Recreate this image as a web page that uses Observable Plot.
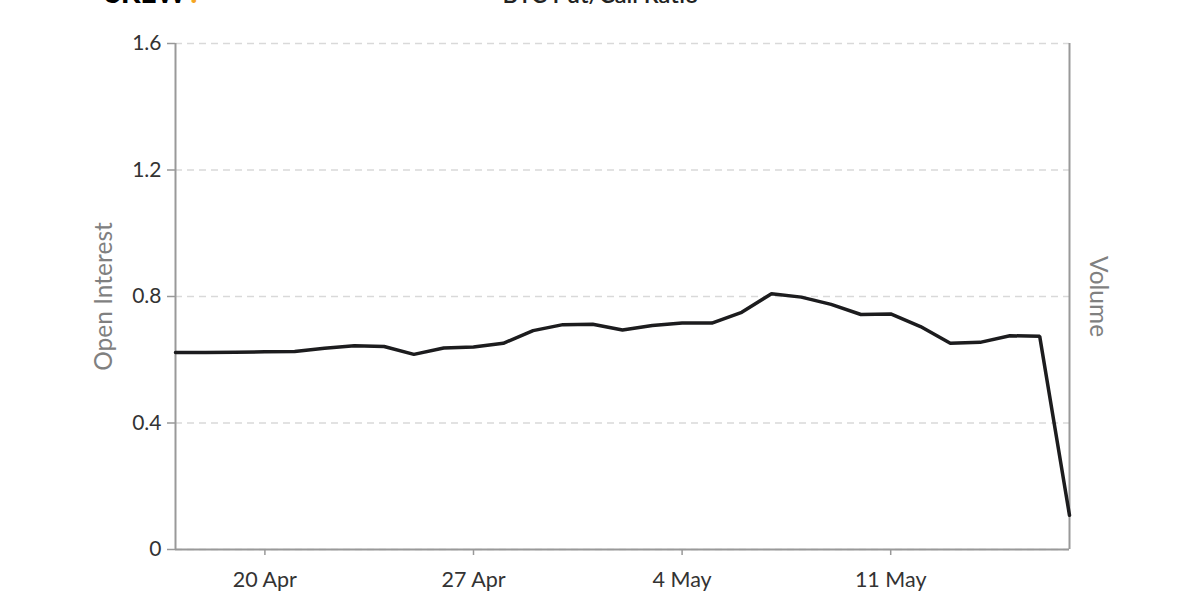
<!DOCTYPE html>
<html>
<head>
<meta charset="utf-8">
<script src="https://cdn.jsdelivr.net/npm/d3@7"></script>
<script src="https://cdn.jsdelivr.net/npm/@observablehq/plot@0.6"></script>
<style>
  html, body { margin: 0; padding: 0; background: #fff; }
  #chart svg { font-family: Lato, "Open Sans", sans-serif; }
</style>
</head>
<body>
<div id="chart"></div>
<script>
const title = "BTC Put/Call Ratio";
const logoText = "SKEW";
const yLabelLeft = "Open Interest";
const yLabelRight = "Volume";

const dates = [
  "2020-04-17","2020-04-18","2020-04-19","2020-04-20","2020-04-21","2020-04-22","2020-04-23",
  "2020-04-24","2020-04-25","2020-04-26","2020-04-27","2020-04-28","2020-04-29","2020-04-30",
  "2020-05-01","2020-05-02","2020-05-03","2020-05-04","2020-05-05","2020-05-06","2020-05-07",
  "2020-05-08","2020-05-09","2020-05-10","2020-05-11","2020-05-12","2020-05-13","2020-05-14",
  "2020-05-15","2020-05-16","2020-05-17"
];
const ratios = [
  0.623, 0.623, 0.624, 0.625, 0.626, 0.636, 0.644,
  0.642, 0.617, 0.637, 0.640, 0.652, 0.692, 0.711,
  0.712, 0.694, 0.708, 0.716, 0.716, 0.750, 0.809,
  0.798, 0.775, 0.743, 0.745, 0.705, 0.652, 0.655,
  0.676, 0.674, 0.108
];
const xTicks = ["2020-04-20","2020-04-27","2020-05-04","2020-05-11"];
const yTicks = [0, 0.4, 0.8, 1.2, 1.6];

const data = dates.map((d, i) => ({date: new Date(d), value: ratios[i]}));
const first = data[0].date, last = data[data.length - 1].date;

const axisColor = "#999";
const textColor = "#333";
const labelColor = "#808080";

const chart = Plot.plot({
  width: 1200,
  height: 610,
  marginLeft: 175,
  marginRight: 131,
  marginTop: 43,
  marginBottom: 61,
  style: {fontFamily: "Lato, sans-serif", fontSize: "21px", color: textColor, background: "#fff"},
  x: {type: "utc", domain: [first, last]},
  y: {domain: [0, 1.6]},
  marks: [
    Plot.gridY(yTicks, {stroke: "#d9d9d9", strokeOpacity: 1, strokeDasharray: "7,5", strokeWidth: 1.3}),
    Plot.axisY(yTicks, {
      tickFormat: d => String(d), tickSize: 8, tickPadding: 6, stroke: axisColor,
      strokeWidth: 1.5, fill: textColor, fontSize: 21, label: null
    }),
    Plot.axisX(xTicks.map(d => new Date(d)), {
      tickFormat: d3.utcFormat("%-d %b"), tickSize: 6, tickPadding: 16, stroke: axisColor,
      strokeWidth: 1.5, fill: textColor, fontSize: 21.5, label: null
    }),
    Plot.ruleX([first], {stroke: axisColor, strokeWidth: 2}),
    Plot.ruleX([last], {stroke: axisColor, strokeWidth: 2}),
    Plot.ruleY([0], {stroke: axisColor, strokeWidth: 2}),
    Plot.line(data, {x: "date", y: "value", stroke: "#1c1c1e", strokeWidth: 3.5, strokeLinejoin: "miter"}),
    Plot.text([yLabelLeft], {frameAnchor: "left", textAnchor: "middle", rotate: -90, dx: -71, fill: labelColor, fontSize: 24.5}),
    Plot.text([yLabelRight], {frameAnchor: "right", textAnchor: "middle", rotate: 90, dx: 28, fill: labelColor, fontSize: 24.5}),
    Plot.text([title], {frameAnchor: "top", textAnchor: "middle", dx: -22, dy: -41, lineAnchor: "bottom", fill: "#222", fontSize: 23.5, fontWeight: 600}),
    Plot.text([logoText], {frameAnchor: "top-left", dx: -70, dy: -41, lineAnchor: "bottom", textAnchor: "start", fill: "#000", fontSize: 28, fontWeight: 900}),
    Plot.text(["."], {frameAnchor: "top-left", dx: 15, dy: -41, lineAnchor: "bottom", textAnchor: "start", fill: "#f5a623", fontSize: 28, fontWeight: 900})
  ]
});
document.getElementById("chart").appendChild(chart);
</script>
</body>
</html>
